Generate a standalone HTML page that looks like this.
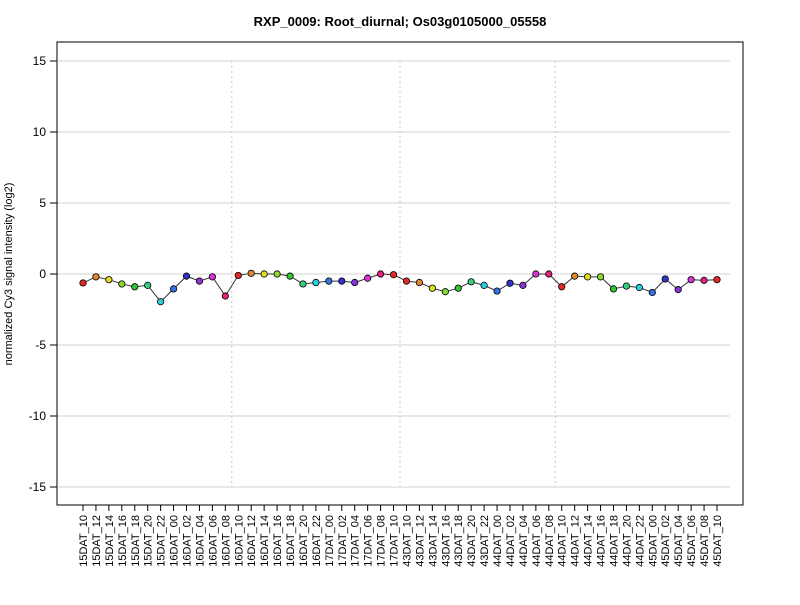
<!DOCTYPE html>
<html><head><meta charset="utf-8"><style>
body{margin:0;background:#fff;font-family:"Liberation Sans",Arial,sans-serif;}
</style></head><body>
<svg id="chart" width="800" height="600" xmlns="http://www.w3.org/2000/svg">
<text x="400" y="26" text-anchor="middle" font-size="13" font-weight="bold" font-family="Liberation Sans, sans-serif">RXP_0009: Root_diurnal; Os03g0105000_05558</text>
<rect x="57" y="42" width="686" height="463" fill="none" stroke="#000" stroke-width="1"/>
<text transform="translate(12,274) rotate(-90)" text-anchor="middle" font-size="11" font-family="Liberation Sans, sans-serif">normalized Cy3 signal intensity (log2)</text>
<g id="grid"></g><g id="yaxis"></g><g id="xaxis"></g><g id="series"></g>
</svg>
<script>
const categories=["15DAT_10","15DAT_12","15DAT_14","15DAT_16","15DAT_18","15DAT_20","15DAT_22","16DAT_00","16DAT_02","16DAT_04","16DAT_06","16DAT_08","16DAT_10","16DAT_12","16DAT_14","16DAT_16","16DAT_18","16DAT_20","16DAT_22","17DAT_00","17DAT_02","17DAT_04","17DAT_06","17DAT_08","17DAT_10","43DAT_10","43DAT_12","43DAT_14","43DAT_16","43DAT_18","43DAT_20","43DAT_22","44DAT_00","44DAT_02","44DAT_04","44DAT_06","44DAT_08","44DAT_10","44DAT_12","44DAT_14","44DAT_16","44DAT_18","44DAT_20","44DAT_22","45DAT_00","45DAT_02","45DAT_04","45DAT_06","45DAT_08","45DAT_10"];
const values=[-0.63,-0.2,-0.4,-0.7,-0.9,-0.8,-1.95,-1.05,-0.15,-0.5,-0.2,-1.55,-0.1,0.05,0,0,-0.15,-0.7,-0.6,-0.5,-0.5,-0.6,-0.3,0,-0.05,-0.5,-0.6,-1.0,-1.25,-1.0,-0.55,-0.8,-1.2,-0.65,-0.8,0,0,-0.9,-0.15,-0.2,-0.2,-1.05,-0.85,-0.95,-1.3,-0.35,-1.1,-0.4,-0.45,-0.4];
const yTicks=[-15,-10,-5,0,5,10,15];
const dividerAfter=[11,24,36];
const hourPalette=["#e02a2a","#e0862e","#dede26","#8ad634","#34c234","#34d07a","#28d2e2","#3474e0","#3232c8","#8a34d6","#d634d6","#e0247c"];
const NS="http://www.w3.org/2000/svg";
const x=i=>83+i*(717-83)/(categories.length-1);
const y=v=>274-v*(274-61)/15;
function mk(tag,attrs,parent){const e=document.createElementNS(NS,tag);for(const k in attrs)e.setAttribute(k,attrs[k]);document.getElementById(parent).appendChild(e);return e;}
yTicks.forEach(t=>{
 const g=mk('line',{x1:57,x2:730,y1:y(t),y2:y(t),stroke:'#d3d3d3','stroke-width':1},'grid');
 
 
 const tk=mk('line',{x1:50,x2:57,y1:y(t),y2:y(t),stroke:'#000'},'yaxis');
 
 
 const tx=mk('text',{x:46,y:y(t)+4,'text-anchor':'end','font-size':12},'yaxis');
 
 
 tx.textContent=t;
});
mk('line',{x1:57,x2:57,y1:y(15),y2:y(-15),stroke:'#000'},'yaxis');
dividerAfter.forEach(i=>{
 const d=mk('line',{x1:(x(i)+x(i+1))/2,x2:(x(i)+x(i+1))/2,y1:y(15),y2:y(-15),stroke:'#c8c8c8','stroke-dasharray':'2,3'},'grid');
 
 
});
mk('line',{x1:x(0),x2:x(categories.length-1),y1:505,y2:505,stroke:'#000'},'xaxis');
categories.forEach((c,i)=>{
 const tk=mk('line',{x1:x(i),x2:x(i),y1:505,y2:511,stroke:'#000'},'xaxis');
 
 
 const tx=mk('text',{transform:`translate(${x(i)+4},515) rotate(-90)`,'text-anchor':'end','font-size':11},'xaxis');
 
 
 tx.textContent=c;
});
const line=mk('polyline',{points:values.map((v,i)=>x(i)+','+y(v)).join(' '),fill:'none',stroke:'#333','stroke-width':1},'series');


values.forEach((v,i)=>{
 const hr=parseInt(categories[i].split('_')[1]);
 const idx=(((hr-10)/2)%12+12)%12;
 const p=mk('circle',{cx:x(i),cy:y(v),r:3.2,fill:hourPalette[idx],stroke:'#000','stroke-width':0.8},'series');
 
 
});
</script>
</body></html>
